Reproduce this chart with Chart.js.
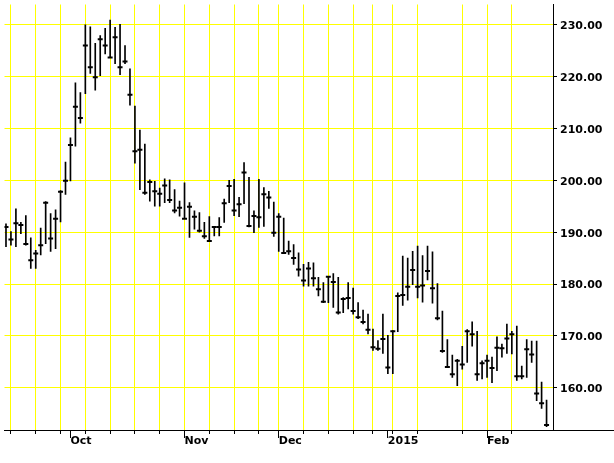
<!DOCTYPE html>
<html><head><meta charset="utf-8">
<script src="https://cdn.jsdelivr.net/npm/chart.js@4"></script>
<style>html,body{margin:0;padding:0;background:#fff;}canvas{display:block;}</style>
</head><body>
<canvas id="c" width="614" height="463" style="width:614px;height:463px"></canvas>
<script>
const dates = [
 "2014-09-12","2014-09-15","2014-09-16","2014-09-17","2014-09-18","2014-09-19","2014-09-22","2014-09-23","2014-09-24","2014-09-25","2014-09-26","2014-09-29","2014-09-30",
 "2014-10-01","2014-10-02","2014-10-03","2014-10-06","2014-10-07","2014-10-08","2014-10-09","2014-10-10","2014-10-13","2014-10-14","2014-10-15","2014-10-16","2014-10-17","2014-10-20","2014-10-21","2014-10-22","2014-10-23","2014-10-24","2014-10-27","2014-10-28","2014-10-29","2014-10-30","2014-10-31",
 "2014-11-03","2014-11-04","2014-11-05","2014-11-06","2014-11-07","2014-11-10","2014-11-11","2014-11-12","2014-11-13","2014-11-14","2014-11-17","2014-11-18","2014-11-19","2014-11-20","2014-11-21","2014-11-24","2014-11-25","2014-11-26","2014-11-28",
 "2014-12-01","2014-12-02","2014-12-03","2014-12-04","2014-12-05","2014-12-08","2014-12-09","2014-12-10","2014-12-11","2014-12-12","2014-12-15","2014-12-16","2014-12-17","2014-12-18","2014-12-19","2014-12-22","2014-12-23","2014-12-24","2014-12-26","2014-12-29","2014-12-30","2014-12-31",
 "2015-01-02","2015-01-05","2015-01-06","2015-01-07","2015-01-08","2015-01-09","2015-01-12","2015-01-13","2015-01-14","2015-01-15","2015-01-16","2015-01-20","2015-01-21","2015-01-22","2015-01-23","2015-01-26","2015-01-27","2015-01-28","2015-01-29","2015-01-30",
 "2015-02-02","2015-02-03","2015-02-04","2015-02-05","2015-02-06","2015-02-09","2015-02-10","2015-02-11","2015-02-12","2015-02-13","2015-02-17","2015-02-18","2015-02-19"
];
const highs = [
 191.6,190.1,194.5,191.9,193.2,188.9,186.5,190.8,195.9,193.6,194.3,198.0,203.5,208.2,218.8,216.9,230.0,229.6,226.4,227.9,
 229.3,230.9,229.5,230.1,226.0,221.5,214.3,209.7,207.0,200.1,199.8,198.5,200.3,200.1,198.2,196.0,199.5,195.7,194.1,193.8,
 191.9,193.0,191.1,192.8,196.4,200.0,200.2,196.7,203.4,200.6,194.1,200.2,198.6,197.9,195.8,193.6,192.7,188.3,187.6,186.0,
 183.8,184.2,184.1,181.3,180.3,181.5,182.0,181.3,177.4,180.3,179.2,176.4,175.0,174.2,171.3,169.1,174.2,170.1,171.0,178.3,
 185.4,185.0,186.3,187.3,185.5,187.3,186.2,180.1,174.8,169.3,166.3,165.5,168.0,171.2,172.7,170.9,165.2,166.3,165.9,169.8,
 168.4,172.3,170.9,171.9,164.2,169.3,169.0,169.0,161.1,157.6
];
const lows = [
 187.2,187.5,187.2,189.7,187.5,183.0,183.0,185.6,187.8,186.3,186.8,192.0,197.3,199.9,206.6,211.0,216.7,220.6,217.4,220.2,
 224.4,223.7,222.5,220.4,222.5,214.5,203.3,198.2,197.3,196.0,195.0,195.0,195.7,195.7,193.7,193.1,192.6,189.0,190.6,190.0,
 188.8,188.2,189.3,189.3,191.9,195.7,193.2,193.0,195.5,191.0,189.9,190.9,191.1,194.6,189.2,186.3,186.0,185.7,183.8,181.5,
 179.6,179.6,179.6,177.7,176.4,176.4,175.5,174.2,174.5,175.2,174.2,173.3,172.3,170.4,167.2,167.2,166.6,162.7,162.7,170.8,
 175.9,176.9,179.9,177.3,176.5,180.8,176.3,173.1,166.8,164.0,162.0,160.4,163.6,164.9,168.0,161.4,161.7,162.0,161.0,163.3,
 165.9,166.6,166.5,161.4,161.7,162.0,164.9,157.5,156.0,152.5
];
const closes = [
 191.0,188.6,191.7,191.4,187.7,184.6,185.9,187.5,195.7,188.8,192.6,197.8,199.9,206.8,214.2,212.0,226.0,221.8,219.9,227.2,
 226.0,223.7,227.6,221.8,222.9,216.5,205.6,205.9,197.6,199.7,197.9,197.4,199.0,196.2,194.2,194.7,192.6,194.9,193.0,190.3,
 189.2,188.3,191.0,191.0,195.6,198.9,194.2,195.4,201.5,191.2,193.1,192.9,197.3,196.7,189.9,193.0,186.0,186.3,185.0,182.8,
 180.7,183.0,181.1,179.0,176.6,181.4,180.4,174.5,177.1,177.3,174.8,173.6,172.7,171.2,167.8,167.5,169.4,163.9,170.9,177.7,
 177.9,179.5,182.7,179.5,179.7,182.5,179.2,173.4,167.1,164.0,162.6,165.2,164.5,170.9,170.3,162.6,164.7,165.2,163.8,167.7,
 167.6,169.5,170.3,162.2,162.2,167.4,166.4,158.9,157.0,152.8
];
const yTickValues = [160,170,180,190,200,210,220,230];
const monthNames = ["Jan","Feb","Mar","Apr","May","Jun","Jul","Aug","Sep","Oct","Nov","Dec"];

const weekStarts = [];
const monthStarts = [];
dates.forEach((d, i) => {
  const dt = new Date(d + "T00:00:00Z");
  if (dt.getUTCDay() === 1) weekStarts.push(i);
  if (i > 0 && dates[i - 1].slice(5, 7) !== d.slice(5, 7)) monthStarts.push(i);
});
function monthLabel(i) {
  const d = dates[i], m = +d.slice(5, 7);
  return m === 1 ? d.slice(0, 4) : monthNames[m - 1];
}

const FONT = { family: '"DejaVu Sans", sans-serif', size: 11, weight: 'bold' };

const weekGrid = {
  id: 'weekGrid',
  beforeDatasetsDraw(chart) {
    const { ctx, chartArea, scales: { x } } = chart;
    ctx.save();
    ctx.strokeStyle = '#ffff00';
    ctx.lineWidth = 1;
    ctx.beginPath();
    weekStarts.forEach(i => {
      const px = Math.floor(x.getPixelForValue(i)) + 0.5;
      ctx.moveTo(px, chartArea.top);
      ctx.lineTo(px, chartArea.bottom);
    });
    ctx.stroke();
    ctx.restore();
  },
  afterDraw(chart) {
    const { ctx, chartArea, scales: { x } } = chart;
    ctx.save();
    ctx.strokeStyle = '#000';
    ctx.lineWidth = 1;
    ctx.beginPath();
    weekStarts.forEach(i => {
      if (monthStarts.includes(i)) return;
      const px = Math.floor(x.getPixelForValue(i)) + 0.5;
      ctx.moveTo(px, chartArea.bottom);
      ctx.lineTo(px, chartArea.bottom + 4);
    });
    monthStarts.forEach(i => {
      const px = Math.floor(x.getPixelForValue(i)) + 0.5;
      ctx.moveTo(px, chartArea.bottom);
      ctx.lineTo(px, chartArea.bottom + 8);
    });
    const yb = Math.round(chartArea.bottom) + 0.5;
    ctx.moveTo(chartArea.right, yb);
    ctx.lineTo(chart.width, yb);
    ctx.stroke();
    ctx.restore();
  }
};

new Chart(document.getElementById('c'), {
  type: 'bar',
  data: {
    datasets: [
      {
        type: 'bar',
        data: dates.map((d, i) => ({ x: i, y: [lows[i], highs[i]] })),
        backgroundColor: '#000',
        borderWidth: 0,
        barThickness: 1,
        grouped: false
      },
      {
        type: 'scatter',
        data: dates.map((d, i) => ({ x: i, y: closes[i] })),
        pointStyle: 'line',
        pointRadius: 2.5,
        pointHoverRadius: 2.5,
        borderColor: '#000',
        backgroundColor: '#000',
        borderWidth: 2
      }
    ]
  },
  options: {
    responsive: false,
    animation: false,
    devicePixelRatio: 1,
    events: [],
    layout: { padding: 0 },
    plugins: { legend: { display: false }, tooltip: { enabled: false } },
    scales: {
      x: {
        type: 'linear',
        position: 'bottom',
        offset: false,
        min: -0.3,
        max: 110.3,
        afterBuildTicks: s => { s.ticks = monthStarts.map(v => ({ value: v })); },
        afterFit: s => { s.height = 33; s.paddingLeft = 0; s.paddingRight = 0; },
        grid: { display: false, drawTicks: false, tickLength: 0, offset: false },
        border: { display: true, color: '#000', width: 1 },
        ticks: {
          autoSkip: false,
          maxRotation: 0,
          minRotation: 0,
          align: 'start',
          padding: 5,
          labelOffset: 0,
          color: '#000',
          font: FONT,
          callback: v => monthLabel(v)
        }
      },
      y: {
        type: 'linear',
        position: 'right',
        min: 151.85,
        max: 233.91,
        afterBuildTicks: s => { s.ticks = yTickValues.map(v => ({ value: v })); },
        afterFit: s => { s.width = 61; s.paddingTop = 0; s.paddingBottom = 0; },
        grid: { color: '#ffff00', lineWidth: 1, drawTicks: true, tickLength: 4, tickColor: '#000' },
        border: { display: true, color: '#000', width: 1 },
        ticks: {
          padding: 3,
          labelOffset: 1.5,
          color: '#000',
          font: FONT,
          callback: v => v.toFixed(2)
        }
      }
    }
  },
  plugins: [weekGrid]
});
</script>
</body></html>
